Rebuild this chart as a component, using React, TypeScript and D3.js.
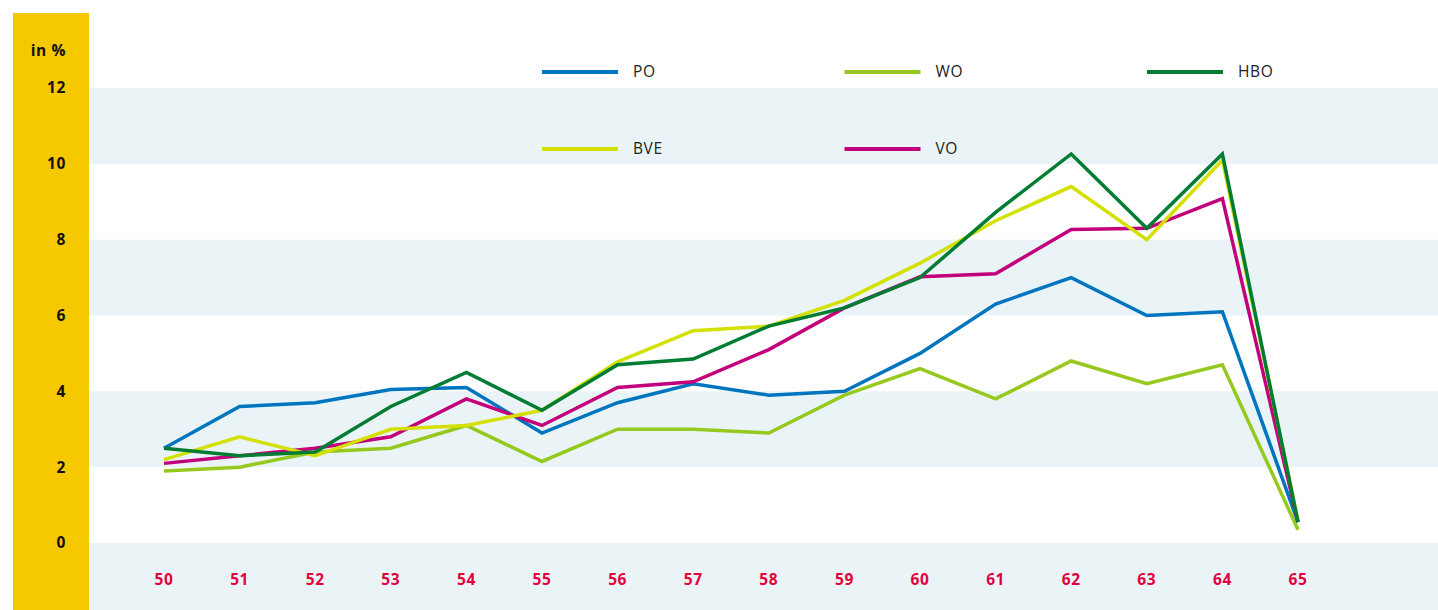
import { useEffect, useRef } from 'react';
import * as d3 from 'd3';

const ages = [50, 51, 52, 53, 54, 55, 56, 57, 58, 59, 60, 61, 62, 63, 64, 65];
const poValues = [2.5, 3.6, 3.7, 4.05, 4.1, 2.9, 3.7, 4.2, 3.9, 4.0, 5.0, 6.3, 7.0, 6.0, 6.1, 0.55];
const woValues = [1.9, 2.0, 2.4, 2.5, 3.1, 2.15, 3.0, 3.0, 2.9, 3.9, 4.6, 3.8, 4.8, 4.2, 4.7, 0.35];
const hboValues = [2.5, 2.3, 2.4, 3.6, 4.5, 3.5, 4.7, 4.85, 5.72, 6.2, 7.0, 8.72, 10.26, 8.3, 10.26, 0.55];
const bveValues = [2.2, 2.8, 2.3, 3.0, 3.1, 3.5, 4.78, 5.6, 5.72, 6.4, 7.38, 8.5, 9.4, 8.0, 10.1, 0.6];
const voValues = [2.1, 2.3, 2.5, 2.8, 3.8, 3.1, 4.1, 4.25, 5.1, 6.2, 7.02, 7.1, 8.27, 8.3, 9.08, 0.55];
const yTicks = [0, 2, 4, 6, 8, 10, 12];

const series = [
  { name: 'WO', values: woValues, color: '#95c91e' },
  { name: 'PO', values: poValues, color: '#0075bf' },
  { name: 'VO', values: voValues, color: '#c2007b' },
  { name: 'BVE', values: bveValues, color: '#d3e000' },
  { name: 'HBO', values: hboValues, color: '#007d32' },
];
const legendOrder = ['PO', 'WO', 'HBO', 'BVE', 'VO'];

const W = 1438;
const H = 610;
const FONT = '"Open Sans", "DejaVu Sans", sans-serif';

const App = () => {
  const svgRef = useRef<SVGSVGElement>(null);

  useEffect(() => {
    const svg = d3.select(svgRef.current);
    svg.selectAll('*').remove();

    const x = d3.scaleLinear().domain([50, 65]).range([164, 1298]);
    const y = d3.scaleLinear().domain([0, 12]).range([543, 88]);

    // background bands
    const bandColor = '#eaf4f7';
    const bands = [[10, 12], [6, 8], [2, 4]];
    svg
      .selectAll('.band')
      .data(bands)
      .enter()
      .append('rect')
      .attr('x', 89)
      .attr('y', d => y(d[1]))
      .attr('width', W - 89)
      .attr('height', d => y(d[0]) - y(d[1]))
      .attr('fill', bandColor);
    svg
      .append('rect')
      .attr('x', 89)
      .attr('y', y(0))
      .attr('width', W - 89)
      .attr('height', H - y(0))
      .attr('fill', bandColor);

    // yellow axis strip
    svg
      .append('rect')
      .attr('x', 13)
      .attr('y', 13)
      .attr('width', 76)
      .attr('height', H - 13)
      .attr('fill', '#f5c800');

    svg
      .append('text')
      .attr('x', 66)
      .attr('y', 56)
      .attr('text-anchor', 'end')
      .style('font-family', FONT)
      .style('font-size', '15.5px')
      .style('font-weight', 'bold')
      .style('letter-spacing', '0.6px')
      .style('fill', '#111')
      .text('in %');

    svg
      .selectAll('.ytick')
      .data(yTicks)
      .enter()
      .append('text')
      .attr('x', 66)
      .attr('y', d => y(d))
      .attr('dy', '0.35em')
      .attr('text-anchor', 'end')
      .style('font-family', FONT)
      .style('font-size', '15.5px')
      .style('font-weight', 'bold')
      .style('letter-spacing', '0.6px')
      .style('fill', '#111')
      .text(d => d);

    svg
      .selectAll('.xtick')
      .data(ages)
      .enter()
      .append('text')
      .attr('x', d => x(d))
      .attr('y', 580)
      .attr('dy', '0.35em')
      .attr('text-anchor', 'middle')
      .style('font-family', FONT)
      .style('font-size', '15.5px')
      .style('font-weight', 'bold')
      .style('letter-spacing', '0.6px')
      .style('fill', '#e3003b')
      .text(d => d);

    // lines
    const line = d3
      .line<number>()
      .x((d, i) => x(ages[i]))
      .y(d => y(d));

    series.forEach(s => {
      svg
        .append('path')
        .datum(s.values)
        .attr('fill', 'none')
        .attr('stroke', s.color)
        .attr('stroke-width', 3.5)
        .attr('stroke-linejoin', 'miter')
        .attr('d', line);
    });

    // legend
    const legend = svg.append('g');
    legendOrder.forEach((name, i) => {
      const s = series.find(d => d.name === name)!;
      const lx = 542 + (i % 3) * 302.5;
      const ly = 72 + Math.floor(i / 3) * 77;
      legend
        .append('line')
        .attr('x1', lx)
        .attr('x2', lx + 76)
        .attr('y1', ly)
        .attr('y2', ly)
        .attr('stroke', s.color)
        .attr('stroke-width', 4);
      legend
        .append('text')
        .attr('x', lx + 91)
        .attr('y', ly)
        .attr('dy', '0.35em')
        .style('font-family', FONT)
        .style('font-size', '15.5px')
        .style('letter-spacing', '0.6px')
        .style('fill', '#222')
        .text(name);
    });
  }, []);

  return (
    <svg
      ref={svgRef}
      width={W}
      height={H}
      style={{ position: 'absolute', left: 0, top: 0, background: '#fff' }}
    />
  );
};

export default App;
